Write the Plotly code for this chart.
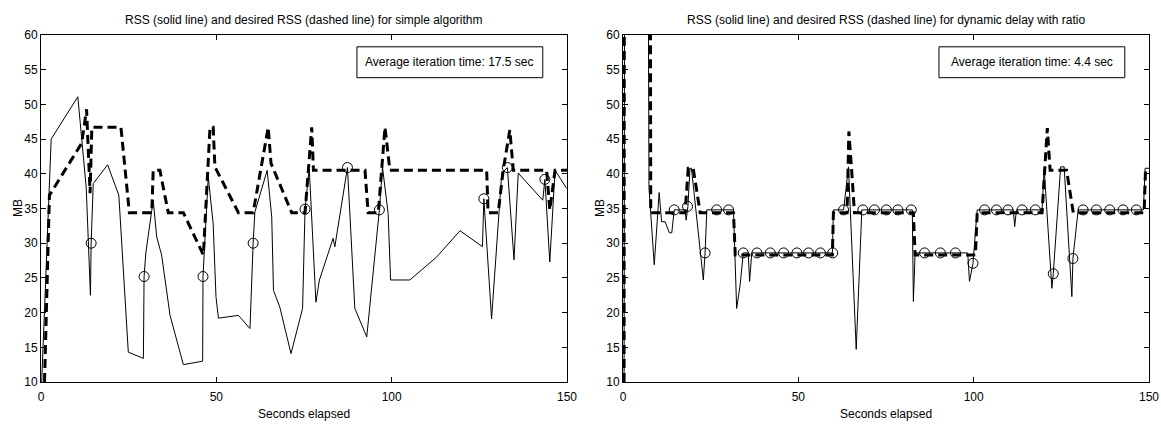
import plotly.graph_objects as go

# ---------------- data: left panel (simple algorithm) ----------------
left_rss_t = [0.2, 2.9, 10.5, 12.9, 14.1, 14.3, 14.9, 19.0, 22.2, 24.9, 29.2, 29.4, 29.9,
              32.0, 33.0, 34.4, 36.8, 40.6, 46.1, 46.2, 47.7, 49.1, 49.9, 50.6, 56.3,
              59.6, 60.5, 61.0, 64.5, 65.8, 66.3, 68.1, 71.3, 74.6, 75.3, 76.5, 78.4,
              79.4, 83.3, 83.8, 87.4, 89.5, 92.9, 96.5, 97.4, 99.0, 99.7, 105.2, 112.8,
              119.5, 125.9, 126.3, 128.5, 131.4, 133.0, 134.9, 136.1, 143.1, 143.7, 145.1,
              146.6, 149.9]
left_rss_mb = [10.0, 45.0, 51.1, 38.0, 22.5, 30.0, 38.6, 41.3, 36.9, 14.3, 13.4, 25.2, 28.6,
               36.2, 30.9, 28.3, 19.6, 12.5, 13.0, 25.2, 39.6, 32.8, 22.3, 19.2, 19.6,
               17.7, 30.0, 34.5, 40.5, 33.8, 23.2, 20.8, 14.1, 20.6, 34.9, 40.8, 21.5,
               24.7, 30.7, 29.5, 40.9, 20.6, 16.5, 34.8, 40.9, 34.3, 24.7, 24.7, 28.0,
               31.8, 29.5, 36.4, 19.1, 40.1, 40.9, 27.6, 40.1, 36.2, 39.2, 27.3,
               40.5, 37.9]

left_des_t = [1.0, 2.4, 11.6, 13.0, 14.0, 14.5, 22.8, 25.2, 31.6, 32.0, 33.9, 36.3, 40.6,
              46.3, 48.2, 49.1, 49.6, 56.3, 60.5, 64.8, 65.6, 71.5, 75.3, 77.2, 77.7,
              92.4, 93.3, 96.2, 98.1, 99.5, 127.1, 127.5, 130.4, 131.8, 133.7, 134.7,
              144.2, 145.1, 146.6, 150.0]
left_des_mb = [10.0, 36.9, 44.4, 49.3, 37.2, 46.7, 46.7, 34.4, 34.4, 40.5, 40.5, 34.4, 34.4,
               28.3, 46.7, 46.7, 41.0, 34.4, 34.4, 46.7, 41.5, 34.4, 34.4, 46.7, 40.5,
               40.5, 34.4, 34.4, 46.7, 40.5, 40.5, 34.4, 34.4, 40.5, 46.3, 40.5,
               40.5, 34.8, 40.5, 40.5]

left_mark_t = [14.3, 29.4, 46.2, 60.5, 75.3, 87.4, 96.5, 126.3, 133.0, 143.7]
left_mark_mb = [30.0, 25.2, 25.2, 30.0, 34.9, 40.9, 34.8, 36.4, 40.9, 39.2]

# ---------------- data: right panel (dynamic delay with ratio) ----------------
right_rss_t = [0.3, 0.5, 7.0, 7.4, 8.9, 10.3, 11.0, 12.0, 13.2, 13.9, 14.6, 17.7, 18.0,
               18.5, 19.1, 19.5, 22.3, 22.9, 23.4, 23.9, 31.5, 32.4, 33.4, 34.3, 35.7,
               36.1, 36.7, 59.7, 60.0, 62.9, 64.3, 65.7, 66.5, 68.1, 82.5, 82.8, 83.3,
               98.3, 98.8, 99.8, 101.0, 111.3, 111.7, 112.2, 119.5, 120.1, 122.3, 122.7,
               124.8, 125.8, 128.0, 128.3, 129.8, 148.4, 148.9, 150.0]
right_rss_mb = [10.0, 100.0, 100.0, 38.0, 26.9, 37.3, 33.1, 33.1, 31.5, 31.5, 34.8, 34.8, 33.3,
                35.3, 40.8, 40.8, 27.6, 24.7, 28.6, 34.8, 34.8, 20.6, 24.0, 28.6, 28.6,
                24.5, 28.6, 28.6, 34.8, 34.8, 41.0, 24.5, 14.7, 34.8, 34.8, 21.6, 28.6,
                28.6, 24.5, 27.1, 34.8, 34.8, 32.4, 34.8, 34.8, 40.8, 23.5, 25.6,
                41.0, 41.0, 22.3, 27.8, 34.8, 34.8, 40.8, 40.8]

right_des_t = [0.3, 0.4, 7.7, 7.9, 17.7, 18.6, 20.0, 22.0, 31.5, 32.0, 59.7, 60.0, 63.9,
               64.4, 65.2, 66.0, 82.8, 83.3, 100.5, 101.0, 119.5, 121.0, 121.8, 126.5,
               128.4, 148.6, 149.0, 150.0]
right_des_mb = [10.0, 100.0, 100.0, 34.4, 34.4, 40.8, 40.8, 34.4, 34.4, 28.3, 28.3, 34.4, 34.4,
                46.1, 40.5, 34.4, 34.4, 28.3, 28.3, 34.4, 34.4, 46.6, 40.5, 40.5,
                34.4, 34.4, 40.5, 40.5]

right_mark_t = [14.6, 18.4, 23.4, 26.7, 30.1, 34.3, 38.2, 42.0, 45.8, 49.6, 52.9, 56.3, 59.8,
                62.9, 68.4, 71.7, 75.1, 78.4, 82.2, 86.0, 90.5, 94.8, 99.8, 103.1, 106.5,
                109.8, 113.8, 117.6, 122.7, 128.3, 131.2, 135.0, 138.8, 142.6, 146.4]
right_mark_mb = [34.8, 35.3, 28.6, 34.8, 34.8, 28.6, 28.6, 28.6, 28.6, 28.6, 28.6, 28.6, 28.6,
                 34.8, 34.8, 34.8, 34.8, 34.8, 34.8, 28.6, 28.6, 28.6, 27.1, 34.8, 34.8,
                 34.8, 34.8, 34.8, 25.6, 27.8, 34.8, 34.8, 34.8, 34.8, 34.8]

titles = ["RSS (solid line) and desired RSS (dashed line) for simple algorithm",
          "RSS (solid line) and desired RSS (dashed line) for dynamic delay with ratio"]
box_texts = ["Average iteration time: 17.5 sec", "Average iteration time: 4.4 sec"]
x_title = "Seconds elapsed"
y_title = "MB"
x_ticks = [0, 50, 100, 150]
y_ticks = [10, 15, 20, 25, 30, 35, 40, 45, 50, 55, 60]

FONT = "Liberation Sans, Arial, sans-serif"

fig = go.Figure()

panels = [
    (left_rss_t, left_rss_mb, left_des_t, left_des_mb, left_mark_t, left_mark_mb, "x", "y"),
    (right_rss_t, right_rss_mb, right_des_t, right_des_mb, right_mark_t, right_mark_mb, "x2", "y2"),
]
for rt, rm, dt, dm, mt, mm, xa, ya in panels:
    fig.add_trace(go.Scatter(x=dt, y=dm, mode="lines", xaxis=xa, yaxis=ya,
                             line=dict(color="black", width=3, dash="9px,5px"),
                             showlegend=False, hoverinfo="skip"))
    fig.add_trace(go.Scatter(x=rt, y=rm, mode="lines", xaxis=xa, yaxis=ya,
                             line=dict(color="black", width=1),
                             showlegend=False, hoverinfo="skip"))
    fig.add_trace(go.Scatter(x=mt, y=mm, mode="markers", xaxis=xa, yaxis=ya,
                             marker=dict(symbol="circle-open", size=10, color="black",
                                         line=dict(width=1, color="black")),
                             showlegend=False, hoverinfo="skip", cliponaxis=False))

axis_common = dict(showline=True, linecolor="black", linewidth=1, mirror="ticks",
                   ticks="inside", ticklen=5, tickcolor="black", showgrid=False,
                   zeroline=False, automargin=False,
                   tickfont=dict(size=12, color="black", family=FONT))

fig.update_layout(
    width=1161, height=426,
    margin=dict(l=41, r=12, t=35, b=44),
    paper_bgcolor="white", plot_bgcolor="white",
    font=dict(family=FONT, size=12, color="black"),
    xaxis=dict(domain=[0, 0.4747], range=[0, 150], tickvals=x_ticks, anchor="y",
               ticklabelstandoff=4, **axis_common),
    yaxis=dict(domain=[0, 1], range=[10, 60], tickvals=y_ticks, anchor="x", **axis_common),
    xaxis2=dict(domain=[0.5253, 1], range=[0, 150], tickvals=x_ticks, anchor="y2",
                ticklabelstandoff=4, **axis_common),
    yaxis2=dict(domain=[0, 1], range=[10, 60], tickvals=y_ticks, anchor="x2", **axis_common),
)

for i, (xr, yr) in enumerate([("x", "y"), ("x2", "y2")]):
    fig.add_shape(type="rect", xref=xr, yref=yr, x0=90.1, x1=143.1, y0=53.85, y1=58.3,
                  line=dict(color="black", width=1), fillcolor="white", layer="above")
    fig.add_annotation(xref=xr, yref=yr, x=116.6, y=56.07, text=box_texts[i],
                       showarrow=False, font=dict(size=12, family=FONT, color="black"))
    fig.add_annotation(xref=xr + " domain", yref="paper", x=0.5, y=1, yanchor="bottom",
                       yshift=6, text=titles[i], showarrow=False,
                       font=dict(size=12, family=FONT, color="black"))
    fig.add_annotation(xref=xr + " domain", yref="paper", x=0.5, y=0, yanchor="middle",
                       yshift=-32, text=x_title, showarrow=False,
                       font=dict(size=12, family=FONT, color="black"))
    fig.add_annotation(xref=xr + " domain", yref="paper", x=0, xshift=-23.5, y=0.5,
                       xanchor="center", yanchor="middle", textangle=-90, text=y_title,
                       showarrow=False, font=dict(size=12, family=FONT, color="black"))

fig.write_html("out.html", config={"displayModeBar": False},
               post_script="document.body.style.margin='0';document.body.style.overflow='hidden';")
